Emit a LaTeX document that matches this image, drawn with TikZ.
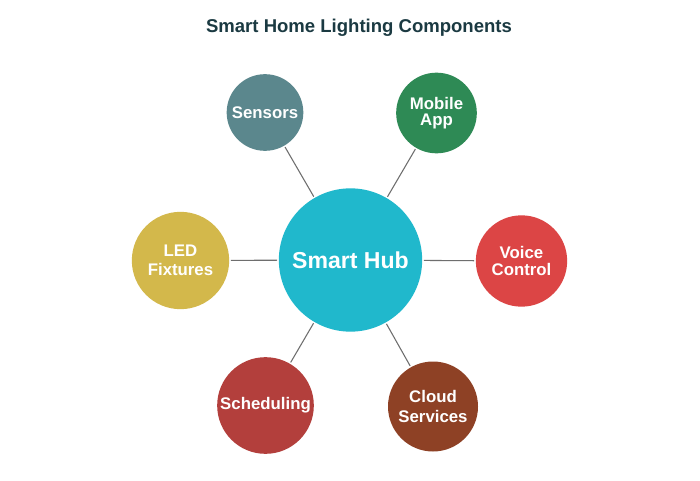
\documentclass[tikz,border=0pt]{standalone}
\usepackage{fontspec}
\setmainfont{Liberation Sans}
\usepackage{tikz}
\usetikzlibrary{positioning}

\definecolor{titlecol}{HTML}{1B3A42}
\definecolor{hubcol}{HTML}{20B8CC}
\definecolor{sensorcol}{HTML}{5B878D}
\definecolor{appcol}{HTML}{2E8A55}
\definecolor{voicecol}{HTML}{DC4545}
\definecolor{cloudcol}{HTML}{8E4125}
\definecolor{schedcol}{HTML}{B33F3C}
\definecolor{ledcol}{HTML}{D3B84B}
\definecolor{linkcol}{HTML}{6E6E6E}

\tikzset{
    part/.style={circle, fill=#1, text=white, inner sep=0pt, align=center,
        font=\bfseries\fontsize{12.6}{11.4}\selectfont},
    gap/.style={font=\bfseries\fontsize{12.6}{#1}\selectfont},
    link/.style={draw=linkcol, line width=0.8pt, shorten >=1pt, shorten <=1pt}
}

\begin{document}
\begin{tikzpicture}[x=0.75pt, y=-0.75pt]
        \useasboundingbox[fill=white] (0, 0) rectangle (700, 481);

        \node[text=titlecol, font=\bfseries\fontsize{13.9}{16}\selectfont] (title) at (359, 27.5) {Smart Home Lighting Components};

        % hub in the middle
        \node[circle, fill=hubcol, text=white, inner sep=0pt, minimum size=107.5pt,
            font=\bfseries\fontsize{17.3}{20}\selectfont] (hub) at (350.5, 260) {Smart Hub};

        % the parts round it
        \node[part=sensorcol, minimum size=57.5pt] (sensors) at (265, 112.5) {Sensors};
        \node[part=appcol, minimum size=60.5pt, gap=11.8] (app) at (436.5, 113) {Mobile\\App};
        \node[part=voicecol, minimum size=68.5pt, gap=12.8] (voice) at (521.5, 261) {Voice\\Control};
        \node[part=cloudcol, minimum size=67.5pt, gap=15] (cloud) at (433, 406.5) {Cloud\\Services};
        \node[part=schedcol, minimum size=72.5pt] (sched) at (265.5, 405.5) {Scheduling};
        \node[part=ledcol, minimum size=73pt, gap=14.3] (led) at (180.5, 260.5) {LED\\Fixtures};

        \foreach \p in {sensors, app, voice, cloud, sched, led} {
            \draw[link] (hub) -- (\p);
        }
    \end{tikzpicture}
\end{document}
